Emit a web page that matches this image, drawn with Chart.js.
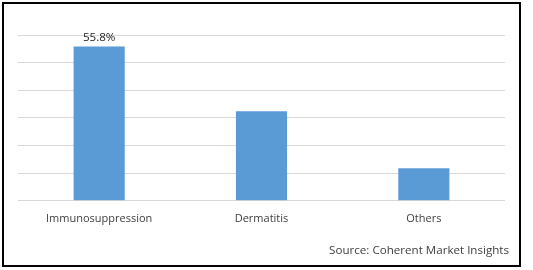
<!DOCTYPE html>
<html>
<head>
<meta charset="utf-8">
<script src="https://cdn.jsdelivr.net/npm/chart.js@4"></script>
<style>
  html, body { margin: 0; padding: 0; background: #fff; }
  #wrap { width: 533px; height: 270px; position: relative; }
</style>
</head>
<body>
<div id="wrap"><canvas id="chart" width="533" height="270"></canvas></div>
<script>
let categorias = ['Immunosuppression', 'Dermatitis', 'Others'];
let valores = [55.8, 32.4, 11.8];
let etiquetas = ['55.8%', '', ''];
let fuente = 'Source: Coherent Market Insights';

let fuenteTexto = '11.6px "Open Sans", "Liberation Sans", sans-serif';

// borde negro alrededor y texto de la fuente
let marco = {
    id: 'marco',
    afterDraw(chart) {
        let c = chart.ctx;
        c.save();
        c.strokeStyle = '#000';
        c.lineWidth = 2;
        c.strokeRect(3, 3, 517, 263);
        c.fillStyle = '#404040';
        c.font = fuenteTexto;
        c.textAlign = 'right';
        c.textBaseline = 'middle';
        c.fillText(fuente, 509, 251);
        c.restore();
    }
};

// etiqueta de valor encima de la barra
let valorEtiqueta = {
    id: 'valorEtiqueta',
    afterDatasetsDraw(chart) {
        let c = chart.ctx;
        let meta = chart.getDatasetMeta(0);
        c.save();
        c.fillStyle = '#262626';
        c.font = fuenteTexto;
        c.textAlign = 'center';
        c.textBaseline = 'bottom';
        meta.data.forEach((bar, i) => {
            if (etiquetas[i]) c.fillText(etiquetas[i], bar.x, bar.y - 3);
        });
        c.restore();
    }
};

let datos = {
    labels: categorias,
    datasets: [
        {
            data: valores,
            backgroundColor: '#5b9bd5',
            borderWidth: 0,
            barPercentage: 0.315,
            categoryPercentage: 1.0,
        }
    ]
};

let opciones = {
    responsive: false,
    animation: false,
    layout: { padding: { left: 18, right: 28, top: 35, bottom: 34 } },
    plugins: {
        legend: { display: false },
        tooltip: { enabled: false }
    },
    scales: {
        x: {
            grid: { display: false, drawTicks: false },
            border: { display: false },
            ticks: {
                color: '#404040',
                padding: 11,
                font: { family: '"Open Sans", "Liberation Sans", sans-serif', size: 11 }
            }
        },
        y: {
            min: 0,
            max: 60,
            ticks: { display: false, stepSize: 10 },
            grid: { color: '#d9d9d9', drawTicks: false, lineWidth: 1 },
            border: { display: false }
        }
    }
};

let ctx = document.getElementById('chart');

let miGrafica = new Chart(ctx, {
    type: 'bar',
    data: datos,
    options: opciones,
    plugins: [valorEtiqueta, marco]
});
</script>
</body>
</html>
